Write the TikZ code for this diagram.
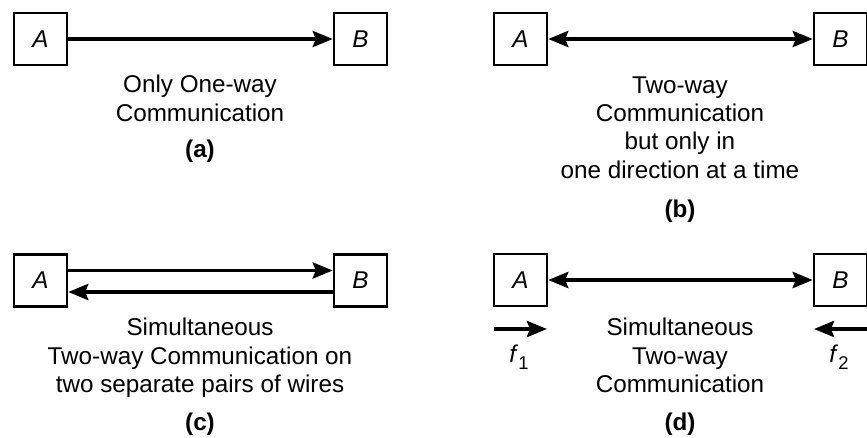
\documentclass[tikz,border=0pt]{standalone}
\usepackage{fontspec}
\setmainfont{Liberation Sans}
\usetikzlibrary{arrows.meta}

\newcommand{\freq}[1]{\textit{f}\raisebox{-0.55ex}{\fontsize{10.5}{10.5}\selectfont #1}}

\begin{document}
\begin{tikzpicture}
  [x=0.02cm,y=-0.02cm,
   every node/.style={font=\fontsize{13.8}{16.2}\selectfont},
   station/.style={draw, line width=1.4pt, minimum width=1.06cm, minimum height=1.04cm,
                   inner sep=0pt, font=\fontsize{13.8}{16.2}\selectfont\itshape},
   wire/.style={line width=2.2pt},
   head/.style={-{Stealth[length=0.4cm,width=0.32cm,inset=0.06cm]}},
   heads/.style={{Stealth[length=0.4cm,width=0.32cm,inset=0.06cm]}-{Stealth[length=0.4cm,width=0.32cm,inset=0.06cm]}},
   caption/.style={align=center, anchor=north, inner sep=0pt},
   tag/.style={font=\fontsize{13.8}{16.2}\selectfont\bfseries}]
  \useasboundingbox (0,0) rectangle (867,437);

  % (a) one-way
  \node[station] (a1) at (40.5,39)  {A};
  \node[station] (b1) at (360.5,39) {B};
  \node[caption] (t1) at (200,75) {Only One-way\\Communication};
  \node[tag] (l1) at (200,151) {(a)};
  \draw[wire,head] (a1) -- (b1);

  % (b) two-way, one direction at a time
  \node[station] (a2) at (520.5,39) {A};
  \node[station] (b2) at (840.5,39) {B};
  \node[caption] (t2) at (680,76) {Two-way\\Communication\\but only in\\one direction at a time};
  \node[tag] (l2) at (680,211) {(b)};
  \draw[wire,heads] (a2) -- (b2);

  % (c) two pairs of wires
  \node[station] (a3) at (40.5,280.5)  {A};
  \node[station] (b3) at (360.5,280.5) {B};
  \node[caption] (t3) at (200,318) {Simultaneous\\Two-way Communication on\\two separate pairs of wires};
  \node[tag] (l3) at (200,424) {(c)};
  \draw[wire,head] ([yshift=0.2cm]a3.east) -- ([yshift=0.2cm]b3.west);
  \draw[wire,head] ([yshift=-0.23cm]b3.west) -- ([yshift=-0.23cm]a3.east);

  % (d) simultaneous, two frequencies
  \node[station] (a4) at (520.5,280) {A};
  \node[station] (b4) at (840.5,280) {B};
  \node[caption] (t4) at (680,318) {Simultaneous\\Two-way\\Communication};
  \node[tag] (l4) at (680,424) {(d)};
  \draw[wire,heads] (a4) -- (b4);

  \coordinate (f1s) at (494,329);
  \coordinate (f1e) at (547,329);
  \coordinate (f2s) at (870,329);
  \coordinate (f2e) at (814,329);
  \draw[wire,head] (f1s) -- (f1e);
  \draw[wire,head] (f2s) -- (f2e);
  \node (f1) at (519,357) {\freq{1}};
  \node (f2) at (839,357) {\freq{2}};

\end{tikzpicture}
\end{document}
